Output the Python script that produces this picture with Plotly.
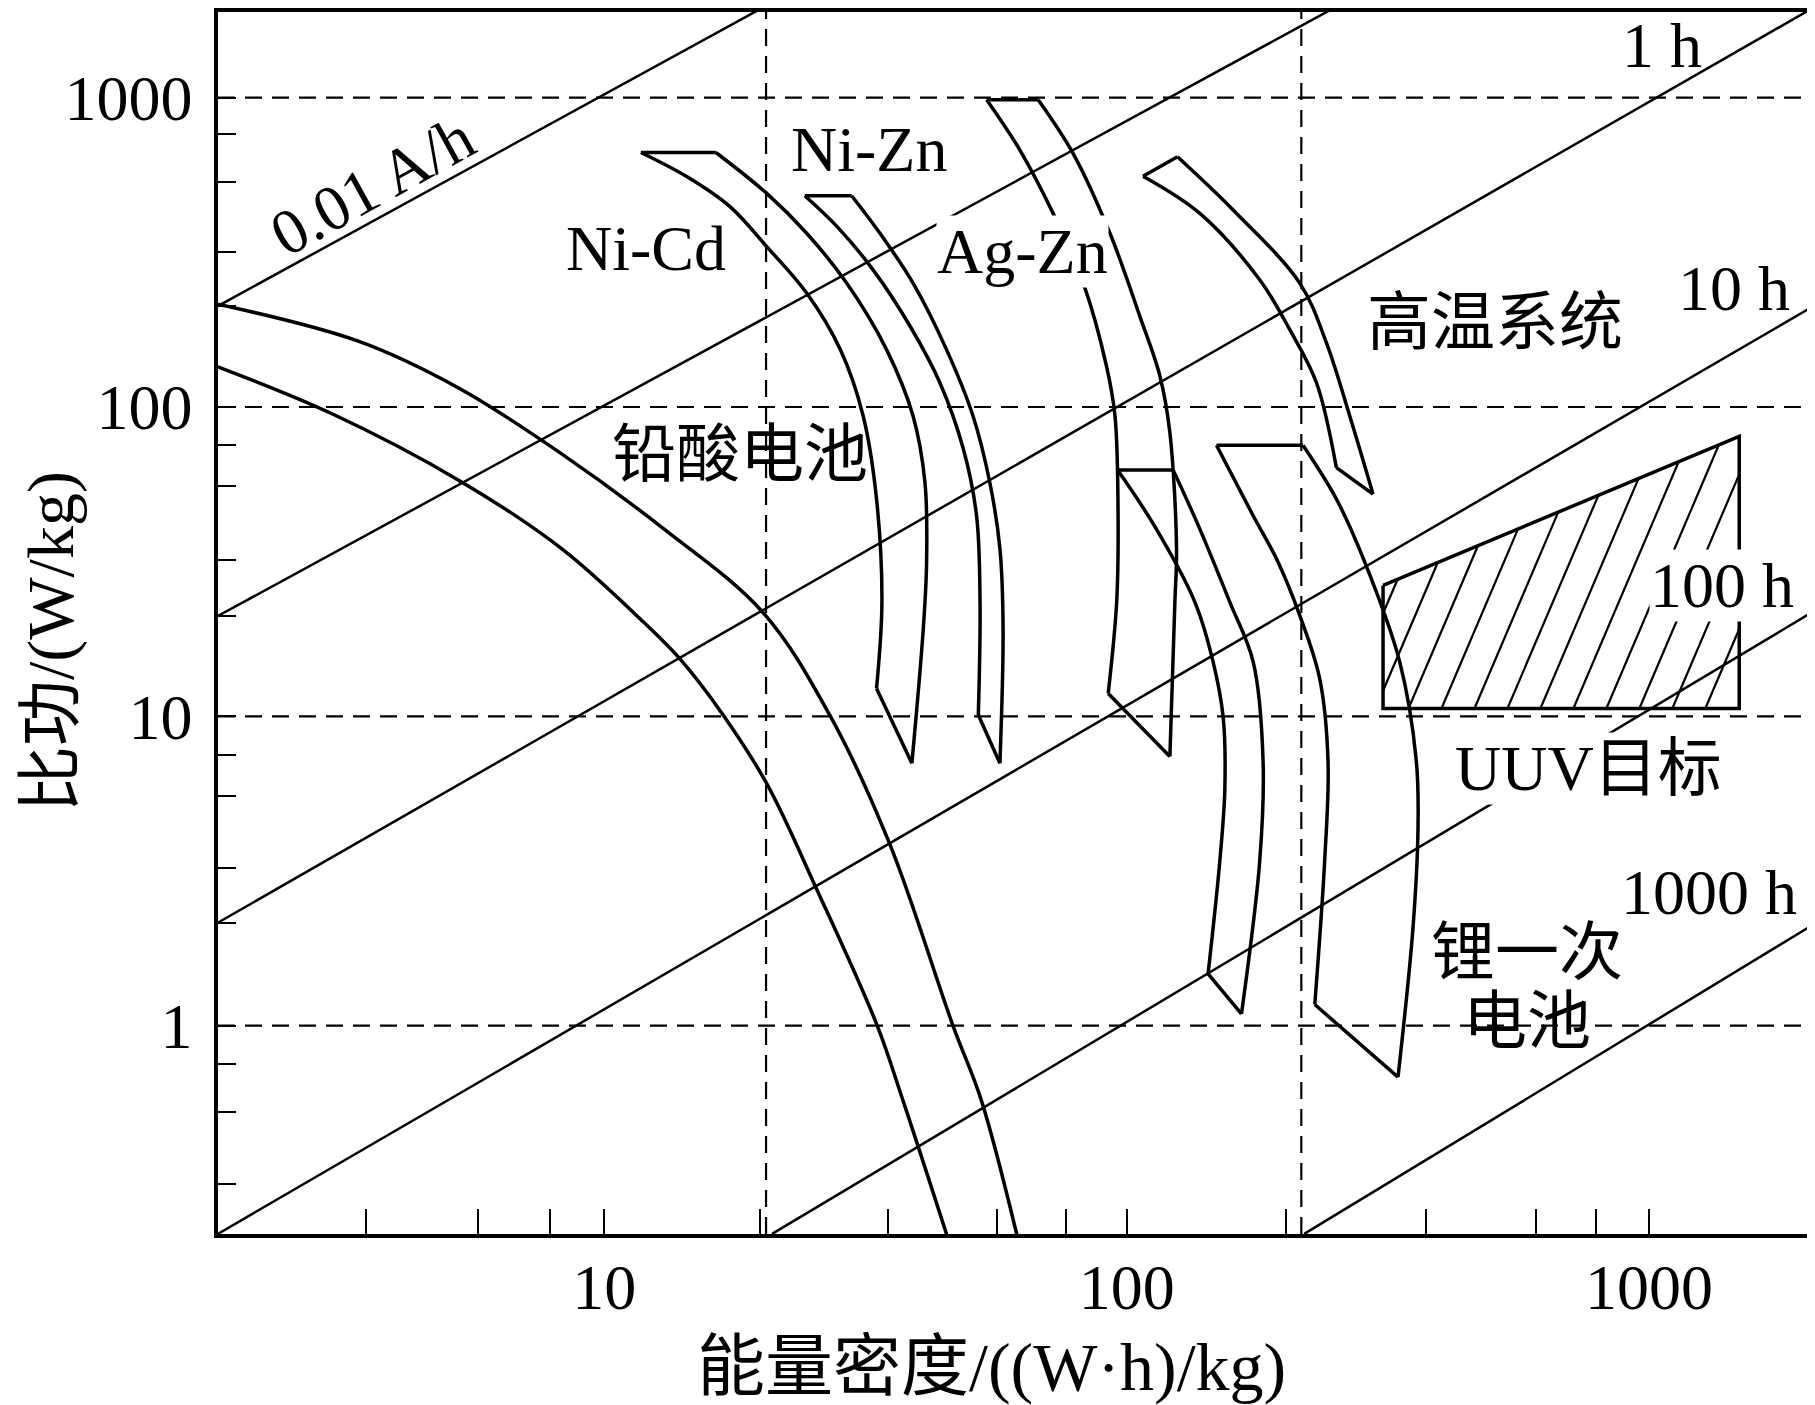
import numpy as np
import plotly.graph_objects as go

# ---- axes (energy density E in (W*h)/kg, specific power P in W/kg) ----
x_range = [0.2603, 3.3103]          # log10
y_range = [-0.6739, 3.2771]         # log10
x_major = [10, 100, 1000]
x_minor = [3.5, 5.74, 7.87, 19.9, 34.9, 56.4, 76.5, 201.7, 373.9, 607, 791.6]
y_major = [1, 10, 100, 1000]
y_minor = [0.307, 0.524, 0.754, 2.15, 3.23, 5.51, 7.52, 21.1, 32.0, 55.4, 75.6,
           212, 316.5, 532, 765]

# dashed reference lines
grid_E = [20.4, 216]
grid_P = [1, 10, 100, 1000]

# constant discharge-time lines (0.01 h, 0.1 h, 1 h, 10 h, 100 h, 1000 h)
time_E = [[1.82, 20.3], [1.82, 252.6], [1.82, 2044], [1.82, 2044], [20.95, 2044], [218.8, 2044]]
time_P = [[212, 1973], [21.1, 1973], [2.15, 1936], [0.212, 209.7], [0.212, 21.6], [0.212, 2.1]]

# lead-acid band (two open curves)
lead_outer_E = [1.82, 3.37, 5.27, 8.27, 12.96, 20.1, 27.0, 35.2, 46.5, 52.7, 62.1]
lead_outer_P = [215, 163.5, 115, 70.7, 40.5, 21.7, 10.1, 3.86, 1.0, 0.573, 0.2]
lead_inner_E = [1.82, 3.01, 5.27, 8.27, 11.87, 13.97, 16.88, 20.5, 25.5, 33.3, 37.3, 45.7]
lead_inner_P = [134.9, 95.1, 57.9, 34.9, 20.2, 15.3, 10.1, 6.02, 2.76, 1.0, 0.573, 0.2]

# closed outlines; *_corners = vertices where the outline has a sharp corner
nicd_E = [11.75, 16.35, 20.46, 24.4, 29.1, 34.7, 39.0, 41.1, 41.4, 40.8, 38.8,
          33.2, 34.0, 33.2, 31.3, 28.3, 24.4, 20.46, 17.4, 14.4, 11.75]
nicd_P = [665, 665, 490.5, 364.6, 251.5, 153.3, 93.5, 57.0, 31.5, 19.2, 7.05,
          12.3, 23.4, 50.4, 93.5, 153.3, 233.5, 330, 444.4, 555, 665]
nicd_corners = [0, 1, 10, 11, 20]

nizn_E = [24.2, 29.75, 33.7, 39.0, 45.2, 50.8, 54.7, 57.2, 58.0, 57.2,
          52.0, 52.4, 51.6, 48.7, 43.9, 38.5, 32.7, 27.9, 24.2]
nizn_P = [482, 482, 364.6, 251.5, 153.3, 93.5, 57.0, 34.8, 19.2, 7.05,
          10.1, 23.4, 44.5, 73.0, 119.8, 182.4, 277.6, 383, 482]
nizn_corners = [0, 1, 9, 10, 18]

agzn_E = [53.95, 67.7, 79.0, 92.9, 106.0, 115.8, 121.0, 124.6, 123.7, 121.0,
          92.2, 95.7, 96.3, 95.0, 91.5, 82.6, 72.3, 62.5, 53.95]
agzn_P = [985, 985, 659.8, 364.6, 196.4, 125.9, 82.6, 34.8, 23.4, 7.41,
          11.85, 23.4, 44.5, 93.5, 135.6, 251.5, 422.8, 676, 985]
agzn_corners = [0, 1, 9, 10, 18]

band_E = [96.1, 122.8, 138.1, 157.6, 174.7, 182.5, 179.8, 165.9,
          143.2, 150.8, 154.2, 153.0, 146.4, 135.1, 113.2, 96.1]
band_P = [62.5, 62.5, 40.3, 23.4, 15.0, 7.14, 3.40, 1.09,
          1.47, 3.40, 5.86, 9.97, 15.0, 23.4, 41.1, 62.5]
band_corners = [0, 1, 7, 8, 15]

li_E = [148.6, 217.6, 252.1, 285.7, 333.3, 358.7, 361.3, 353.4, 330.8,
        229.2, 239.4, 243.0, 234.2, 214.5, 195.0, 174.7, 148.6]
li_P = [75.2, 75.2, 50.4, 31.5, 15.0, 7.14, 4.35, 2.07, 0.681,
        1.17, 3.40, 7.14, 13.25, 21.2, 31.5, 44.5, 75.2]
li_corners = [0, 1, 8, 9, 16]

hot_E = [107.5, 125.1, 159.9, 214.5, 241.3, 267.4, 296.3, 252.1, 230.9, 205.3, 179.8, 138.1, 107.5]
hot_P = [557.6, 644, 433.4, 251.5, 161.2, 93.5, 52.3, 63.7, 119.8, 177.8, 257.8, 422.8, 557.6]
hot_corners = [0, 1, 6, 7, 12]

# UUV target region (hatched)
uuv_E = [309.7, 1489, 1489, 309.7, 309.7]
uuv_P = [26.5, 80.3, 10.6, 10.6, 26.5]

FONT = "Liberation Serif, Noto Sans CJK SC, serif"
BLACK = "black"

fig = go.Figure()


def add_line(x, y, width=2.5, dash=None, shape="linear"):
    fig.add_trace(go.Scatter(x=x, y=y, mode="lines", hoverinfo="skip", showlegend=False,
                             line=dict(color=BLACK, width=width, dash=dash, shape=shape, smoothing=1.0)))


def add_outline(E, P, corners):
    for a, b in zip(corners[:-1], corners[1:]):
        add_line(E[a:b + 1], P[a:b + 1], width=3.5, shape="spline")


# px per decade in the final figure, used only to lay the hatch at its drawn angle
SX, SY = 522.6, 310.3


def hatch(E, P, step=33, k=1 / 2.35, offset=12):
    u = np.log10(E) * SX
    v = np.log10(P) * SY
    c = u - v * k
    xs, ys = [], []
    for cc in np.arange(c.min() + offset, c.max(), step):
        hits = []
        for i in range(len(u) - 1):
            f0 = c[i] - cc
            f1 = c[i + 1] - cc
            if f0 == f1:
                continue
            t = f0 / (f0 - f1)
            if 0 <= t <= 1:
                hits.append(v[i] + t * (v[i + 1] - v[i]))
        if len(hits) >= 2:
            for vv in (min(hits), max(hits)):
                xs.append(10 ** ((cc + vv * k) / SX))
                ys.append(10 ** (vv / SY))
            xs.append(None)
            ys.append(None)
    return xs, ys


# dashed grid
for e in grid_E:
    add_line([e, e], [10 ** y_range[0], 10 ** y_range[1]], width=2.2, dash="17px,10px")
for p in grid_P:
    add_line([10 ** x_range[0], 10 ** x_range[1]], [p, p], width=2.2, dash="17px,10px")

# discharge-time lines
for ex, py in zip(time_E, time_P):
    add_line(ex, py, width=2.5)

# lead-acid
add_line(lead_outer_E, lead_outer_P, width=3.5, shape="spline")
add_line(lead_inner_E, lead_inner_P, width=3.5, shape="spline")

for E, P, cn in [(nicd_E, nicd_P, nicd_corners), (nizn_E, nizn_P, nizn_corners),
                 (agzn_E, agzn_P, agzn_corners), (band_E, band_P, band_corners),
                 (li_E, li_P, li_corners), (hot_E, hot_P, hot_corners)]:
    add_outline(E, P, cn)

hx, hy = hatch(uuv_E, uuv_P)
add_line(hx, hy, width=2.2)
add_line(uuv_E, uuv_P, width=3.5)

# text labels: (text, E, P, angle, white background)
labels = [
    ("0.01 A/h", 3.595, 520.5, -29, False),
    ("Ni-Cd", 12.02, 326, 0, False),
    ("Ni-Zn", 32.1, 680, 0, False),
    ("Ag-Zn", 63.3, 319, 0, True),
    ("铅酸电池", 18.2, 70.2, 0, False),
    ("高温系统", 508, 187, 0, False),
    ("1 h", 1057, 1480, 0, False),
    ("10 h", 1452, 241.4, 0, False),
    ("100 h", 1377, 26.4, 0, True),
    ("UUV目标", 764.7, 6.78, 0, True),
    ("1000 h", 1306, 2.70, 0, False),
    ("锂一次", 584.8, 1.72, 0, False),
    ("电池", 584.8, 1.03, 0, False),
]
annotations = []
for txt, e, p, ang, bg in labels:
    annotations.append(dict(x=np.log10(e), y=np.log10(p), xref="x", yref="y", text=txt,
                            showarrow=False, textangle=ang, borderpad=0,
                            xanchor="center", yanchor="middle",
                            bgcolor="white" if bg else "rgba(0,0,0,0)",
                            font=dict(family=FONT, size=64, color=BLACK)))

annotations.append(dict(x=0.4857, y=-0.1085, xref="paper", yref="paper",
                        xanchor="center", yanchor="middle",
                        text="能量密度/((W·h)/kg)", showarrow=False,
                        font=dict(family=FONT, size=68, color=BLACK)))
annotations.append(dict(x=-0.1048, y=0.4845, xref="paper", yref="paper",
                        xanchor="center", yanchor="middle",
                        text="比功/(W/kg)", showarrow=False, textangle=-90,
                        font=dict(family=FONT, size=66, color=BLACK)))

# the page puts the figure 8 px in from the top-left corner; size and margins allow for it
fig.update_layout(
    width=1807, height=1397,
    margin=dict(l=210, r=3.5, t=0, b=171),
    paper_bgcolor="white", plot_bgcolor="white",
    showlegend=False,
    annotations=annotations,
    font=dict(family=FONT, size=64, color=BLACK),
)
fig.update_xaxes(
    type="log", range=x_range, showgrid=False, zeroline=False,
    showline=True, linecolor=BLACK, linewidth=3.5, mirror=True,
    tickmode="array", tickvals=x_major, ticktext=[str(v) for v in x_major],
    ticks="inside", ticklen=25, tickwidth=2.2, tickcolor=BLACK, ticklabelstandoff=-6,
    minor=dict(tickmode="array", tickvals=x_minor, ticks="inside", ticklen=25,
               tickwidth=2.2, tickcolor=BLACK, showgrid=False),
    tickfont=dict(family=FONT, size=64, color=BLACK),
)
fig.update_yaxes(
    type="log", range=y_range, showgrid=False, zeroline=False,
    showline=True, linecolor=BLACK, linewidth=3.5, mirror=True,
    tickmode="array", tickvals=y_major, ticktext=[str(v) for v in y_major],
    ticks="inside", ticklen=18, tickwidth=2.2, tickcolor=BLACK, ticklabelstandoff=9,
    minor=dict(tickmode="array", tickvals=y_minor, ticks="inside", ticklen=18,
               tickwidth=2.2, tickcolor=BLACK, showgrid=False),
    tickfont=dict(family=FONT, size=64, color=BLACK),
)

fig.write_html("out.html")
